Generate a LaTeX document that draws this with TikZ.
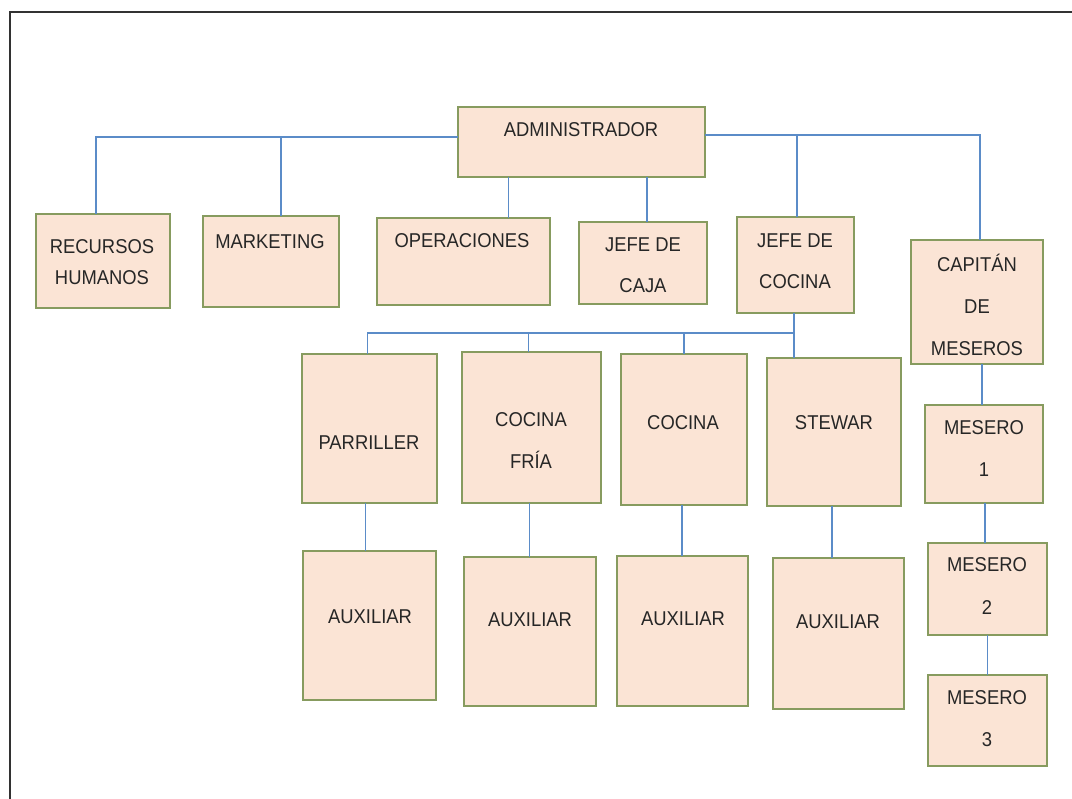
\documentclass[tikz,border=0pt]{standalone}
\usepackage{fontspec}
\setmainfont{Liberation Sans}[FakeStretch=0.92]
\usetikzlibrary{calc}
\definecolor{boxfill}{RGB}{251,228,213}
\definecolor{boxline}{RGB}{135,155,95}
\definecolor{conn}{RGB}{91,140,200}
\definecolor{framecol}{RGB}{50,50,50}
\newcommand\orgbox[5]{\node[box, minimum width={(#3)-(#2)}, minimum height={(#5)-(#4)}] (#1) at ({((#2)+(#3))/2},{((#4)+(#5))/2}) {};}
\begin{document}
\begin{tikzpicture}[x=1pt,y=-1pt,
  box/.style={draw=boxline, fill=boxfill, line width=1.4pt, inner sep=0pt, outer sep=0pt},
  lbl/.style={align=center, inner sep=0pt, font=\fontsize{20}{#1}\selectfont, text=black!85},
  lbl/.default=24,
  wire/.style={draw=conn, line width=1.2pt}]
\useasboundingbox[fill=white] (0,0) rectangle (1072,799);
% frame
\coordinate (fr1) at (1072,12);
\coordinate (fr2) at (10,12);
\coordinate (fr3) at (10,799);
\draw[framecol, line width=2.5pt] (fr1) -- (fr2) -- (fr3);
% boxes
\orgbox{admin}{458}{705}{107}{177}
\orgbox{rh}{36}{170}{214}{308}
\orgbox{mkt}{203}{339}{216}{307}
\orgbox{oper}{377}{550}{218}{305}
\orgbox{caja}{579}{707}{222}{304}
\orgbox{jcoc}{737}{854}{217}{313}
\orgbox{cap}{911}{1043}{240}{364}
\orgbox{parr}{302}{437}{354}{503}
\orgbox{fria}{462}{601}{352}{503}
\orgbox{coc}{621}{747}{354}{505}
\orgbox{stew}{767}{901}{358}{506}
\orgbox{auxa}{303}{436}{551}{700}
\orgbox{auxb}{464}{596}{557}{706}
\orgbox{auxc}{617}{748}{556}{706}
\orgbox{auxd}{773}{904}{558}{709}
\orgbox{mesa}{925}{1043}{405}{503}
\orgbox{mesb}{928}{1047}{543}{635}
\orgbox{mesc}{928}{1047}{675}{766}
% texts
\node[lbl] (t-admin) at (581,130) {ADMINISTRADOR};
\node[lbl=31] (t-rh) at (102,262) {RECURSOS\\HUMANOS};
\node[lbl] (t-mkt) at (270,242) {MARKETING};
\node[lbl] (t-oper) at (462,241) {OPERACIONES};
\node[lbl=41] (t-caja) at (643,265) {JEFE DE\\CAJA};
\node[lbl=41] (t-jcoc) at (795,261) {JEFE DE\\COCINA};
\node[lbl=42] (t-cap) at (977,305) {CAPITÁN\\DE\\MESEROS};
\node[lbl] (t-parr) at (369,443) {PARRILLER};
\node[lbl=42] (t-fria) at (531,441) {COCINA\\FRÍA};
\node[lbl] (t-coc) at (683,423) {COCINA};
\node[lbl] (t-stew) at (834,423) {STEWAR};
\node[lbl] (t-auxa) at (370,617) {AUXILIAR};
\node[lbl] (t-auxb) at (530,620) {AUXILIAR};
\node[lbl] (t-auxc) at (683,619) {AUXILIAR};
\node[lbl] (t-auxd) at (838,622) {AUXILIAR};
\node[lbl=42] (t-mesa) at (984,449) {MESERO\\1};
\node[lbl=43] (t-mesb) at (987,586) {MESERO\\2};
\node[lbl=42] (t-mesc) at (987,719) {MESERO\\3};
% connectors top level
\coordinate (busL) at ($(admin.west)+(0,-5)$);
\coordinate (busR) at ($(admin.east)+(0,-7)$);
\draw[wire] (busL) -| ([xshift=-7pt]rh.north);
\draw[wire] ([xshift=10pt]mkt.north) coordinate (mk) -- (mk |- busL);
\draw[wire] ([xshift=45pt]oper.north) coordinate (op) -- (op |- admin.south);
\draw[wire] ([xshift=4pt]caja.north) coordinate (cj) -- (cj |- admin.south);
\draw[wire] (busR) -| ([xshift=3pt]cap.north);
\draw[wire] ([xshift=1.5pt]jcoc.north) coordinate (jc) -- (jc |- busR);
% kitchen
\coordinate (kbus) at ($(jcoc.south)+(-1.5,20)$);
\draw[wire] (kbus |- jcoc.south) -- (kbus |- stew.north);
\draw[wire] (kbus) -| ([xshift=-2pt]parr.north);
\draw[wire] ([xshift=-3pt]fria.north) coordinate (fr) -- (fr |- kbus);
\draw[wire] (coc.north) -- (coc.north |- kbus);
\draw[wire] ([xshift=-4pt]parr.south) coordinate (pa) -- (pa |- auxa.north);
\draw[wire] ([xshift=-2pt]fria.south) coordinate (fa) -- (fa |- auxb.north);
\draw[wire] ([xshift=-2pt]coc.south) coordinate (ca) -- (ca |- auxc.north);
\draw[wire] ([xshift=-2pt]stew.south) coordinate (sa) -- (sa |- auxd.north);
% meseros
\draw[wire] ([xshift=5pt]cap.south) coordinate (cm) -- (cm |- mesa.north);
\draw[wire] ([xshift=1pt]mesa.south) coordinate (m1) -- (m1 |- mesb.north);
\draw[wire] (mesb.south) -- (mesc.north);
\end{tikzpicture}
\end{document}
